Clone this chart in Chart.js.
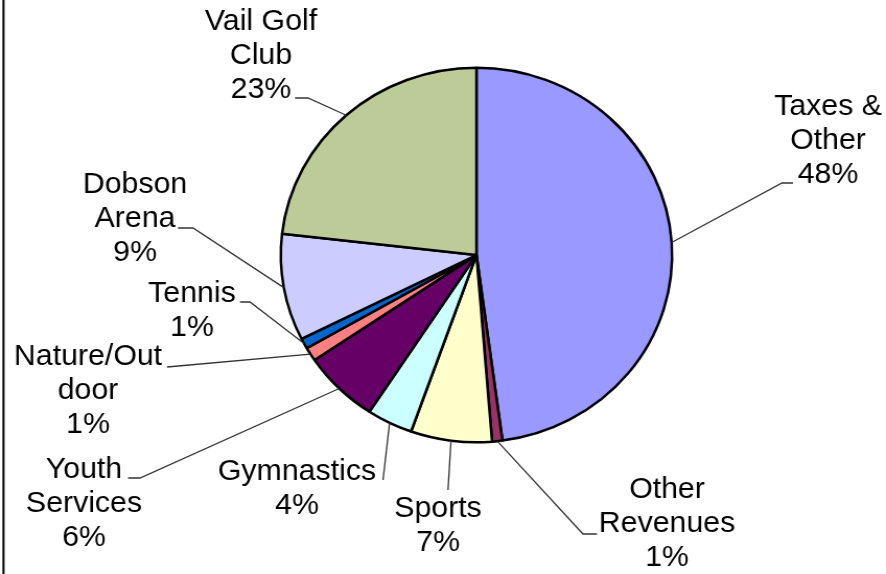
<!DOCTYPE html>
<html>
<head>
<meta charset="utf-8">
<script src="https://cdn.jsdelivr.net/npm/chart.js@4.4.1/dist/chart.umd.min.js"></script>
<style>
  html, body { margin: 0; padding: 0; background: #fff; overflow: hidden; }
</style>
</head>
<body>
<canvas id="pieChart" width="848" height="574" style="display:block;width:886px;height:574px"></canvas>
<script>
// slices, clockwise from 12 o'clock
const categories = [
  ['Taxes &', 'Other'],
  ['Other', 'Revenues'],
  ['Sports'],
  ['Gymnastics'],
  ['Youth', 'Services'],
  ['Nature/Out', 'door'],
  ['Tennis'],
  ['Dobson', 'Arena'],
  ['Vail Golf', 'Club']
];
const values = [47.9, 0.85, 6.7, 3.8, 6.3, 1.2, 0.9, 9.2, 23.2];
const colors = ['#9999FF', '#993366', '#FFFFCC', '#CCFFFF', '#660066', '#FF8080', '#0066CC', '#CCCCFF', '#BCCB98'];

// where each label sits (page px): text centre, first baseline, leader start + elbow
const labelSpots = [
  { cx: 828, y: 115, p0: [793, 183], p1: [782, 183] },
  { cx: 667, y: 498, p0: [597, 534], p1: [583, 534] },
  { cx: 438, y: 517, p0: [448, 490], p1: [448, 490] },
  { cx: 297, y: 480, p0: [383, 480], p1: [383, 480] },
  { cx: 84,  y: 478, p0: [128, 478], p1: [140, 478] },
  { cx: 88,  y: 365, p0: [167, 367], p1: [167, 367] },
  { cx: 192, y: 302, p0: [240, 302], p1: [250, 302] },
  { cx: 135, y: 193, p0: [178, 228], p1: [193, 228] },
  { cx: 261, y: 30,  p0: [295, 98],  p1: [308, 98] }
];

const total = values.reduce((a, b) => a + b, 0);

const pieLabels = {
  id: 'pieLabels',
  afterDraw(chart) {
    const ctx = chart.ctx;
    // canvas is stretched sideways by css, so page x -> canvas x
    const sx = chart.canvas.clientWidth / chart.width;
    const arcs = chart.getDatasetMeta(0).data;

    ctx.save();
    // frame edge on the left
    ctx.strokeStyle = '#000';
    ctx.lineWidth = 2;
    ctx.beginPath();
    ctx.moveTo(3.5 / sx, 0);
    ctx.lineTo(3.5 / sx, chart.height);
    ctx.stroke();

    ctx.font = '29px "Liberation Sans", Arial, sans-serif';
    ctx.textAlign = 'center';
    ctx.textBaseline = 'alphabetic';
    ctx.fillStyle = '#000';

    arcs.forEach((arc, i) => {
      const spot = labelSpots[i];
      const { x, y, startAngle, endAngle, outerRadius } = arc.getProps(['x', 'y', 'startAngle', 'endAngle', 'outerRadius'], true);
      const mid = (startAngle + endAngle) / 2;
      const ax = x + Math.cos(mid) * outerRadius;
      const ay = y + Math.sin(mid) * outerRadius;

      ctx.strokeStyle = '#333';
      ctx.lineWidth = 1.3;
      ctx.beginPath();
      ctx.moveTo(spot.p0[0] / sx, spot.p0[1]);
      ctx.lineTo(spot.p1[0] / sx, spot.p1[1]);
      ctx.lineTo(ax, ay);
      ctx.stroke();

      const lines = categories[i].concat(Math.round(values[i] / total * 100) + '%');
      lines.forEach((txt, k) => {
        ctx.fillText(txt, spot.cx / sx, spot.y + k * 34);
      });
    });
    ctx.restore();
  }
};

document.addEventListener('DOMContentLoaded', () => {
  const ctx = document.getElementById('pieChart').getContext('2d');
  new Chart(ctx, {
    type: 'pie',
    data: {
      labels: categories,
      datasets: [{
        data: values,
        backgroundColor: colors,
        borderColor: '#000',
        borderWidth: 2.5
      }]
    },
    options: {
      responsive: false,
      devicePixelRatio: 1,
      animation: false,
      layout: {
        padding: { top: 66.5, bottom: 130.5, left: 267.5, right: 203.5 }
      },
      plugins: {
        legend: { display: false },
        tooltip: { enabled: false }
      }
    },
    plugins: [pieLabels]
  });
});
</script>
</body>
</html>
